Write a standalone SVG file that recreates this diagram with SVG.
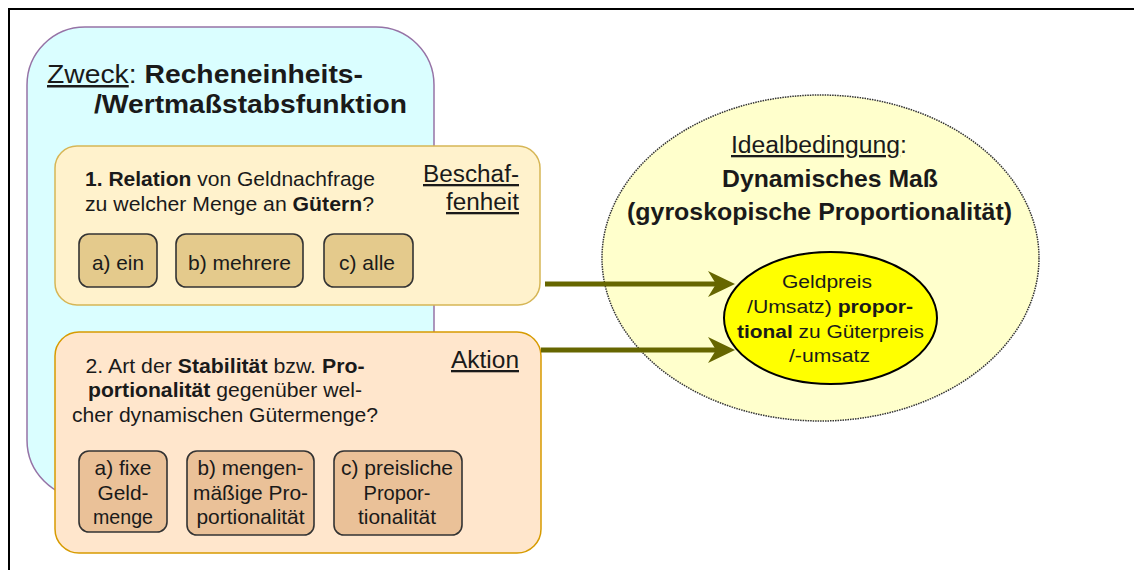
<svg xmlns="http://www.w3.org/2000/svg" width="1134" height="570" viewBox="0 0 1134 570">
<defs>
<style>
text{font-family:"Liberation Sans",Arial,Helvetica,sans-serif;fill:#1a1a1a}
.b{font-weight:bold}
.u{text-decoration:underline}
.body{font-size:20.5px}
.btn{font-size:21px}
.btnY{fill:#e4ca8c;stroke:#333333;stroke-width:1.6}
.btnO{fill:#eac198;stroke:#333333;stroke-width:1.6}
.conn{stroke:#666600;stroke-width:5;fill:none}
</style>
<marker id="ah" markerUnits="userSpaceOnUse" markerWidth="28" markerHeight="28" refX="12" refY="13" orient="auto">
<path d="M0,0 L27,13 L0,26 L8,13 Z" fill="#666600"/>
</marker>
</defs>
<rect x="0" y="0" width="1134" height="570" fill="#ffffff"/>
<rect x="9" y="9" width="1200" height="700" fill="none" stroke="#000000" stroke-width="2"/>

<g id="zweck">
<rect x="27" y="27" width="407" height="471" rx="58" ry="58" fill="#dafeff" stroke="#9673a6" stroke-width="1.5"/>
<text x="47" y="83" font-size="25" textLength="316" lengthAdjust="spacingAndGlyphs"><tspan class="u">Zweck</tspan>: <tspan class="b">Recheneinheits-</tspan></text>
<text x="94" y="113" font-size="25" class="b" textLength="313" lengthAdjust="spacingAndGlyphs">/Wertmaßstabsfunktion</text>
</g>

<g id="beschaffenheit">
<rect x="55" y="146" width="485" height="159" rx="22" ry="22" fill="#fff2cc" stroke="#d6b656" stroke-width="1.5"/>
<text x="85" y="186" class="body" textLength="290" lengthAdjust="spacingAndGlyphs"><tspan class="b">1. Relation</tspan> von Geldnachfrage</text>
<text x="85" y="211" class="body" textLength="289" lengthAdjust="spacingAndGlyphs">zu welcher Menge an <tspan class="b">Gütern</tspan>?</text>
<text x="519" y="182" font-size="23" text-anchor="end" class="u" textLength="96" lengthAdjust="spacingAndGlyphs">Beschaf-</text>
<text x="519" y="210" font-size="23" text-anchor="end" class="u" textLength="73" lengthAdjust="spacingAndGlyphs">fenheit</text>
</g>
<g id="btn-a1">
<rect x="79" y="234" width="78" height="53" rx="10" class="btnY"/>
<text x="118" y="270" class="btn" text-anchor="middle" textLength="52" lengthAdjust="spacingAndGlyphs">a) ein</text>
</g>
<g id="btn-b1">
<rect x="176" y="234" width="127" height="53" rx="10" class="btnY"/>
<text x="239.5" y="270" class="btn" text-anchor="middle" textLength="103" lengthAdjust="spacingAndGlyphs">b) mehrere</text>
</g>
<g id="btn-c1">
<rect x="324" y="234" width="89" height="53" rx="10" class="btnY"/>
<text x="367" y="270" class="btn" text-anchor="middle" textLength="56" lengthAdjust="spacingAndGlyphs">c) alle</text>
</g>

<g id="aktion">
<rect x="55" y="332" width="486" height="221" rx="24" ry="24" fill="#ffe6cc" stroke="#d79b00" stroke-width="1.5"/>
<text x="225" y="373" class="body" text-anchor="middle" textLength="279" lengthAdjust="spacingAndGlyphs">2. Art der <tspan class="b">Stabilität</tspan> bzw. <tspan class="b">Pro-</tspan></text>
<text x="225" y="397" class="body" text-anchor="middle" textLength="274" lengthAdjust="spacingAndGlyphs"><tspan class="b">portionalität</tspan> gegenüber wel-</text>
<text x="225" y="422" class="body" text-anchor="middle" textLength="306" lengthAdjust="spacingAndGlyphs">cher dynamischen Gütermenge?</text>
<text x="519" y="368" font-size="23" text-anchor="end" class="u" textLength="68" lengthAdjust="spacingAndGlyphs">Aktion</text>
</g>
<g id="btn-a2">
<rect x="79" y="451" width="88" height="81" rx="10" class="btnO"/>
<text x="123" y="475" class="btn" text-anchor="middle" textLength="57" lengthAdjust="spacingAndGlyphs">a) fixe</text>
<text x="123" y="500" class="btn" text-anchor="middle" textLength="51" lengthAdjust="spacingAndGlyphs">Geld-</text>
<text x="123" y="524" class="btn" text-anchor="middle" textLength="60" lengthAdjust="spacingAndGlyphs">menge</text>
</g>
<g id="btn-b2">
<rect x="187" y="451" width="127" height="84" rx="10" class="btnO"/>
<text x="250.5" y="475" class="btn" text-anchor="middle" textLength="106" lengthAdjust="spacingAndGlyphs">b) mengen-</text>
<text x="250.5" y="500" class="btn" text-anchor="middle" textLength="115" lengthAdjust="spacingAndGlyphs">mäßige Pro-</text>
<text x="250.5" y="524" class="btn" text-anchor="middle" textLength="108" lengthAdjust="spacingAndGlyphs">portionalität</text>
</g>
<g id="btn-c2">
<rect x="334" y="451" width="128" height="84" rx="10" class="btnO"/>
<text x="397" y="475" class="btn" text-anchor="middle" textLength="112" lengthAdjust="spacingAndGlyphs">c) preisliche</text>
<text x="397" y="500" class="btn" text-anchor="middle" textLength="67" lengthAdjust="spacingAndGlyphs">Propor-</text>
<text x="397" y="524" class="btn" text-anchor="middle" textLength="78" lengthAdjust="spacingAndGlyphs">tionalität</text>
</g>

<g id="idealbedingung">
<ellipse cx="820.5" cy="258" rx="218.5" ry="163" fill="#ffffcc" stroke="#333333" stroke-width="1.5" stroke-dasharray="1.5 1"/>
<text x="819" y="153" font-size="23" text-anchor="middle" textLength="176" lengthAdjust="spacingAndGlyphs"><tspan class="u">Idealbedingung</tspan>:</text>
<text x="830" y="187" font-size="24" class="b" text-anchor="middle" textLength="216" lengthAdjust="spacingAndGlyphs">Dynamisches Maß</text>
<text x="819.5" y="220" font-size="24" class="b" text-anchor="middle" textLength="385" lengthAdjust="spacingAndGlyphs">(gyroskopische Proportionalität)</text>
</g>

<g id="proportional">
<ellipse cx="830.5" cy="318" rx="106.5" ry="66" fill="#ffff00" stroke="#000000" stroke-width="2"/>
<text x="827" y="288" font-size="18" text-anchor="middle" textLength="90" lengthAdjust="spacingAndGlyphs">Geldpreis</text>
<text x="830" y="313" font-size="18" text-anchor="middle" textLength="166" lengthAdjust="spacingAndGlyphs">/Umsatz) <tspan class="b">propor-</tspan></text>
<text x="830.5" y="338" font-size="18" text-anchor="middle" textLength="187" lengthAdjust="spacingAndGlyphs"><tspan class="b">tional</tspan> zu Güterpreis</text>
<text x="829.5" y="362" font-size="18" text-anchor="middle" textLength="81" lengthAdjust="spacingAndGlyphs">/-umsatz</text>
</g>

<g id="connectors">
<line class="conn" x1="545" y1="284" x2="720" y2="284" marker-end="url(#ah)"/>
<line class="conn" x1="541" y1="350" x2="720" y2="350" marker-end="url(#ah)"/>
</g>
</svg>
